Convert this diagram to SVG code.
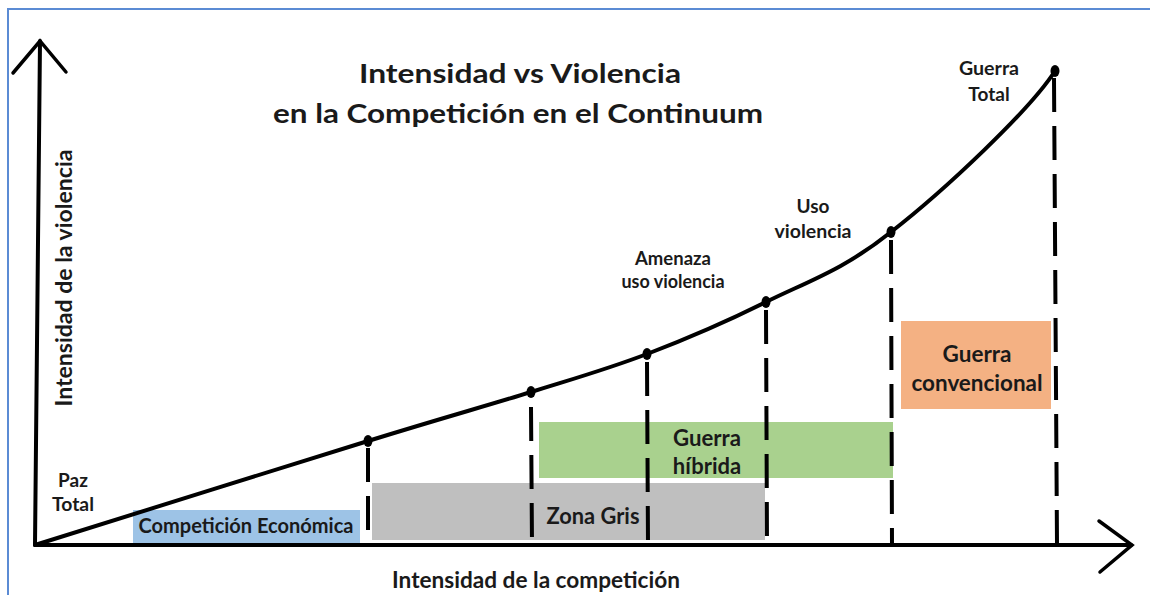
<svg xmlns="http://www.w3.org/2000/svg" width="1150" height="595" viewBox="0 0 1150 595">
<style>
.t{font-family:Lato,"Liberation Sans",sans-serif;font-weight:700;fill:#1a1a1a;text-anchor:middle}
.ax{stroke:#000;stroke-width:4;fill:none;stroke-linecap:round}
.ah{stroke:#000;stroke-width:3.5;fill:none;stroke-linecap:round;stroke-linejoin:miter}
.dash{stroke:#000;stroke-width:4;stroke-dasharray:34 14;fill:none}
.dot{fill:#000}
</style>
<rect width="1150" height="595" fill="#fff"/>
<path d="M8,600 V9 H1160" fill="none" stroke="#5b8bd4" stroke-width="2"/>

<g id="boxes">
<g id="competicion-economica"><rect x="133" y="510" width="227" height="33" fill="#9dc3e6"/><text class="t" x="246" y="533" font-size="20" textLength="215" lengthAdjust="spacingAndGlyphs">Competición Económica</text></g>
<g id="zona-gris"><rect x="372" y="483" width="393" height="57" fill="#bfbfbf"/><text class="t" x="593" y="524" font-size="22" textLength="93" lengthAdjust="spacingAndGlyphs">Zona Gris</text></g>
<g id="guerra-hibrida"><rect x="539" y="422" width="354" height="56" fill="#a9d18e"/><text class="t" x="707" y="446" font-size="22" textLength="68" lengthAdjust="spacingAndGlyphs">Guerra</text><text class="t" x="707" y="474" font-size="22">híbrida</text></g>
<g id="guerra-convencional"><rect x="901" y="321" width="150" height="88" fill="#f4b183"/><text class="t" x="977" y="362" font-size="22.5">Guerra</text><text class="t" x="977" y="391" font-size="22.5" textLength="131" lengthAdjust="spacingAndGlyphs">convencional</text></g>
</g>

<g id="connectors">
<line class="dash" x1="368" y1="448" x2="368" y2="545"/>
<line class="dash" x1="531" y1="407" x2="532" y2="545"/>
<line class="dash" x1="647" y1="362" x2="648" y2="545"/>
<line class="dash" x1="766" y1="310" x2="767" y2="545"/>
<line class="dash" x1="891" y1="240" x2="892" y2="545"/>
<line class="dash" x1="1054" y1="78" x2="1057" y2="545"/>
<path class="ax" d="M35,545 C90.5,527.7 285.3,466.5 368,441 C450.7,415.5 484.5,406.5 531,392 C577.5,377.5 607.8,369 647,354 C686.2,339 725.3,322.3 766,302 C806.7,281.7 842.8,270.5 891,232 C945,190 1030,110 1055,71"/>
<ellipse class="dot" cx="368" cy="441" rx="4.5" ry="6"/>
<ellipse class="dot" cx="531" cy="392" rx="4.5" ry="6"/>
<ellipse class="dot" cx="647" cy="354" rx="4.5" ry="6"/>
<ellipse class="dot" cx="766" cy="302" rx="4.5" ry="6"/>
<ellipse class="dot" cx="891" cy="232" rx="4.5" ry="6"/>
<ellipse class="dot" cx="1055" cy="71" rx="4.5" ry="6"/>
<line class="ax" x1="35" y1="545" x2="40" y2="41"/>
<polyline class="ah" points="13,73 40,41 66,72"/>
<line class="ax" x1="35" y1="545" x2="1131" y2="545"/>
<polyline class="ah" points="1099,521 1132,545 1100,572"/>
</g>

<g id="title">
<text class="t" x="520" y="83" font-size="27" textLength="322" lengthAdjust="spacingAndGlyphs">Intensidad vs Violencia</text>
<text class="t" x="518" y="123" font-size="27" textLength="490" lengthAdjust="spacingAndGlyphs">en la Competición en el Continuum</text>
</g>

<g id="labels">
<text class="t" x="73" y="487" font-size="19">Paz</text>
<text class="t" x="73" y="511" font-size="19" textLength="42" lengthAdjust="spacingAndGlyphs">Total</text>
<text class="t" x="673" y="265" font-size="18.5">Amenaza</text>
<text class="t" x="673" y="288" font-size="18.5" textLength="103" lengthAdjust="spacingAndGlyphs">uso violencia</text>
<text class="t" x="813" y="213" font-size="19">Uso</text>
<text class="t" x="813" y="238" font-size="19" textLength="77" lengthAdjust="spacingAndGlyphs">violencia</text>
<text class="t" x="989" y="75" font-size="19" textLength="60" lengthAdjust="spacingAndGlyphs">Guerra</text>
<text class="t" x="989" y="101" font-size="19">Total</text>
<text class="t" x="536" y="588" font-size="22" textLength="288" lengthAdjust="spacingAndGlyphs">Intensidad de la competición</text>
<text class="t" transform="translate(72,278) rotate(-90)" font-size="23" textLength="257" lengthAdjust="spacingAndGlyphs">Intensidad de la violencia</text>
</g>
</svg>
